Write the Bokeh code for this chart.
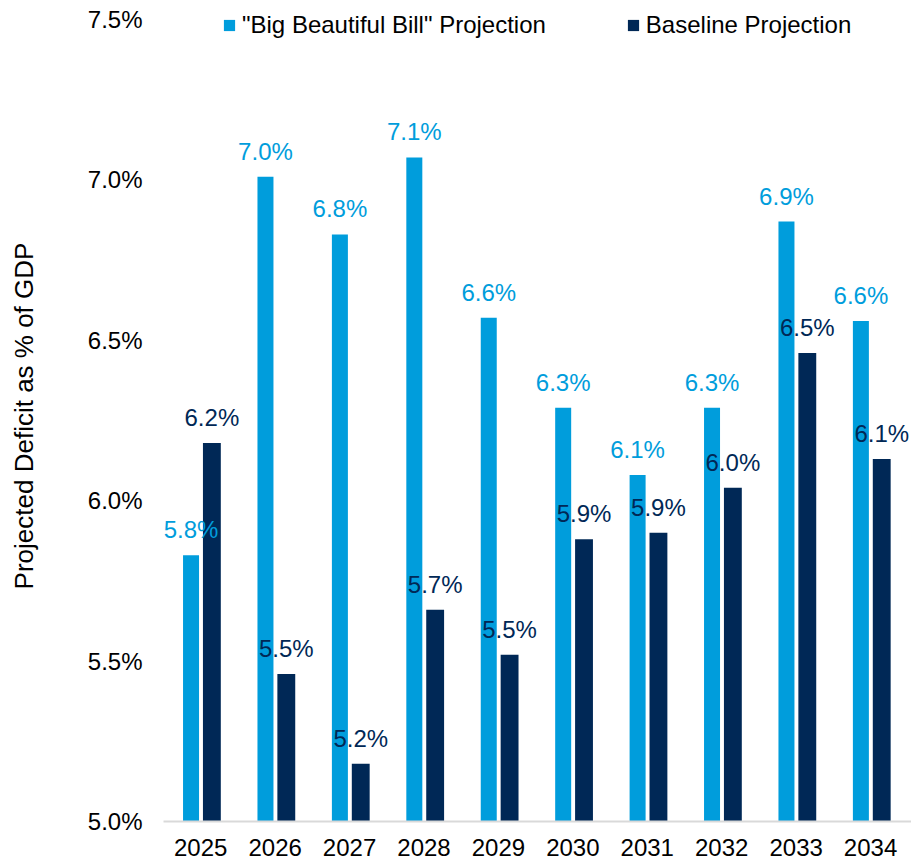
from bokeh.plotting import figure
from bokeh.models import (ColumnDataSource, Range1d, FixedTicker, PrintfTickFormatter,
                          Legend, LegendItem, LabelSet)
from bokeh.transform import dodge
from bokeh.core.properties import value
from bokeh.embed import file_html
from bokeh.resources import INLINE

# ---- data (percent of GDP) ----
years = [2025, 2026, 2027, 2028, 2029, 2030, 2031, 2032, 2033, 2034]
bbb = [5.83, 7.01, 6.83, 7.07, 6.57, 6.29, 6.08, 6.29, 6.87, 6.56]
baseline = [6.18, 5.46, 5.18, 5.66, 5.52, 5.88, 5.90, 6.04, 6.46, 6.13]
y_ticks = [5.0, 5.5, 6.0, 6.5, 7.0, 7.5]
series_names = ['"Big Beautiful Bill" Projection', "Baseline Projection"]

BBB_COLOR = "#009ddc"
BASE_COLOR = "#002856"
FONT = "Liberation Sans"

src = ColumnDataSource(dict(
    year=years,
    bbb=bbb,
    base=baseline,
    bbb_label=[f"{v:.1f}%" for v in bbb],
    base_label=[f"{v:.1f}%" for v in baseline],
))

# y range extends a hair above the 7.5% tick so the legend row fits inside the frame
p = figure(width=911, height=865, output_backend="svg", toolbar_location=None,
           x_range=Range1d(2024.5, 2034.55), y_range=Range1d(5.0, 7.528),
           min_border_left=163, min_border_right=0, min_border_top=10,
           min_border_bottom=44)
p.outline_line_color = None
p.xgrid.visible = False
p.ygrid.visible = False
p.background_fill_color = "white"
p.border_fill_color = "white"

bbb_x = dodge("year", -0.13, range=p.x_range)
base_x = dodge("year", 0.15, range=p.x_range)

r1 = p.vbar(x=bbb_x, top="bbb", bottom=5.0, width=0.215,
            source=src, fill_color=BBB_COLOR, line_color=None)
r2 = p.vbar(x=base_x, top="base", bottom=5.0, width=0.24,
            source=src, fill_color=BASE_COLOR, line_color=None)

lab1 = LabelSet(x=bbb_x, y="bbb", text="bbb_label", source=src,
                text_align="center", text_baseline="alphabetic", y_offset=17,
                text_font=value(FONT), text_font_size="24px", text_color=BBB_COLOR)
lab2 = LabelSet(x=base_x, y="base", text="base_label", source=src,
                text_align="center", text_baseline="alphabetic", y_offset=17,
                text_font=value(FONT), text_font_size="24px", text_color=BASE_COLOR)
p.add_layout(lab1)
p.add_layout(lab2)

# axes
xa = p.xaxis[0]
xa.ticker = FixedTicker(ticks=years)
xa.axis_line_color = "#d9d9d9"
xa.axis_line_width = 2
xa.major_tick_line_color = None
xa.minor_tick_line_color = None
xa.major_tick_out = 0
xa.major_tick_in = 0
xa.minor_tick_out = 0
xa.axis_label_standoff = 0
xa.major_label_text_font = FONT
xa.major_label_text_font_size = "24px"
xa.major_label_text_color = "black"
xa.major_label_standoff = 17

ya = p.yaxis[0]
ya.ticker = FixedTicker(ticks=y_ticks)
ya.formatter = PrintfTickFormatter(format="%.1f%%")
ya.axis_line_color = None
ya.major_tick_line_color = None
ya.minor_tick_line_color = None
ya.major_tick_out = 0
ya.major_tick_in = 0
ya.minor_tick_out = 0
ya.major_label_text_font = FONT
ya.major_label_text_font_size = "24px"
ya.major_label_text_color = "black"
ya.major_label_standoff = 21
ya.axis_label = "Projected Deficit as % of GDP"
ya.axis_label_text_font = FONT
ya.axis_label_text_font_size = "26px"
ya.axis_label_text_font_style = "normal"
ya.axis_label_text_color = "black"
ya.axis_label_standoff = 46

# frame height = 865-44-10 = 811 px; legend row sits at the very top of the frame
legend = Legend(items=[LegendItem(label=series_names[0], renderers=[r1]),
                       LegendItem(label=series_names[1], renderers=[r2])],
                orientation="horizontal", location=(59, 782),
                padding=0, margin=0, spacing=80, label_standoff=6,
                glyph_width=14, glyph_height=14,
                border_line_color=None, background_fill_alpha=0,
                label_text_font=FONT, label_text_font_size="24px",
                label_text_color="black")
p.add_layout(legend, "center")

open("out.html", "w").write(file_html(p, INLINE))
